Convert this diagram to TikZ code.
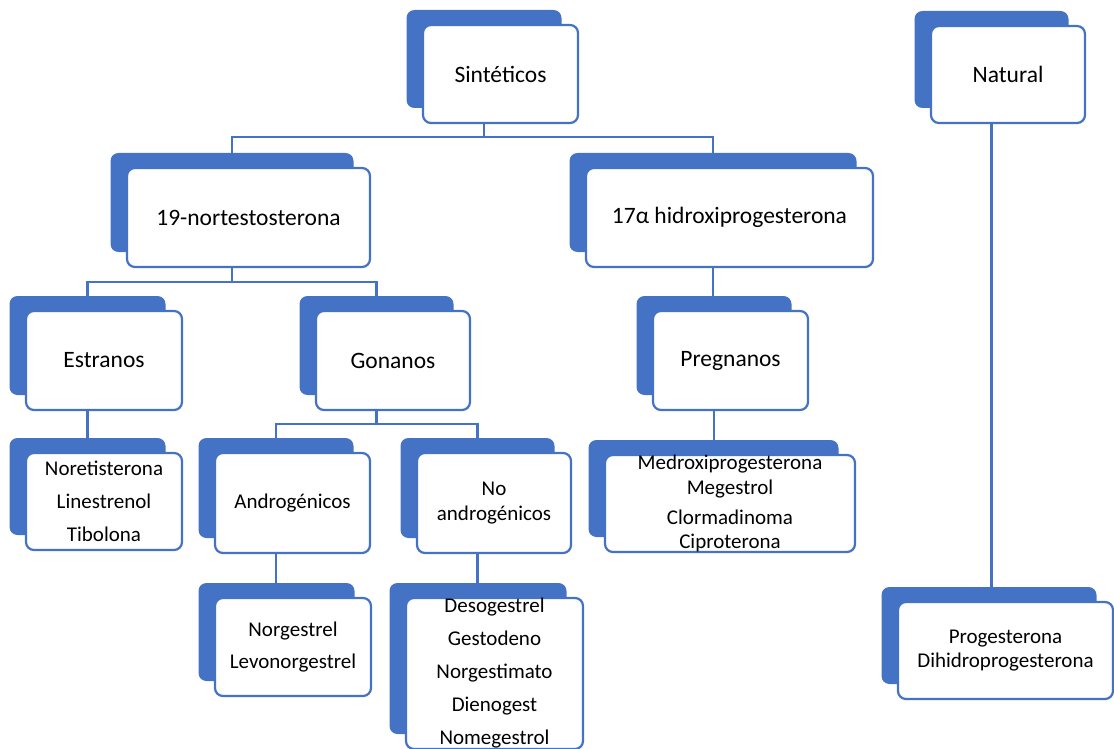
\documentclass[tikz,border=0pt]{standalone}
\usepackage{fontspec}
\setmainfont{Carlito}
\pgfdeclarelayer{bg}
\pgfsetlayers{bg,main}
\definecolor{ofblue}{HTML}{4472C4}

\tikzset{
  backbox/.style={fill=ofblue, rounded corners=8pt, inner sep=0pt, outer sep=0pt},
  frontbox/.style={fill=white, draw=ofblue, line width=2.2pt, rounded corners=8pt,
                   inner sep=0pt, outer sep=0pt, align=center},
  head/.style={font=\fontsize{23.5}{28}\selectfont},
  list/.style={font=\fontsize{21}{24.5}\selectfont},
  link/.style={draw=ofblue, line width=2.2pt},
}

% #1 name, #2 x centre, #3 y centre, #4 width, #5 height, #6 text style, #7 text
\newcommand\orgbox[7]{%
  \node[backbox, minimum width=#4pt, minimum height=#5pt] (#1B) at (#2-16.5,#3-15) {};
  \node[frontbox, minimum width=#4pt, minimum height=#5pt, #6] (#1F) at (#2,#3) {#7};
}

\begin{document}
\begin{tikzpicture}[x=1pt,y=-1pt]
\useasboundingbox (0,0) rectangle (1114,749);

% top level
\orgbox{sint}{500.5}{74}{155}{98}{head}{Sintéticos}
\orgbox{nat}{1008}{74.5}{154}{97}{head}{Natural}

% second level
\orgbox{norx}{248.5}{217.5}{243}{99}{head}{19-nortestosterona}
\orgbox{hidx}{729.5}{217.5}{287}{99}{head}{17α hidroxiprogesterona}

% third level
\orgbox{estr}{104}{360.5}{156}{99}{head}{Estranos}
\orgbox{gon}{393}{360.5}{154}{99}{head}{Gonanos}
\orgbox{preg}{730.5}{360.5}{155}{99}{head}{Pregnanos}

% fourth level
\orgbox{estrL}{104}{501.5}{156}{97}{list}{Noretisterona\\[8.5pt]Linestrenol\\[8.5pt]Tibolona}
\orgbox{andr}{292.5}{503}{155}{100}{list}{Androgénicos}
\orgbox{noan}{494}{503}{154}{100}{list}{No\\androgénicos}
\orgbox{medr}{730}{503.5}{250}{97}{list}{Medroxiprogesterona\\Megestrol\\[5.5pt]Clormadinoma\\Ciproterona}

% fifth level
\orgbox{norg}{293}{647}{156}{98}{list}{Norgestrel\\[7.5pt]Levonorgestrel}
\orgbox{deso}{494.5}{673.5}{177}{151}{list}{Desogestrel\\[8.5pt]Gestodeno\\[8.5pt]Norgestimato\\[8.5pt]Dienogest\\[8.5pt]Nomegestrol}
\orgbox{prog}{1005.5}{650.5}{215}{97}{list}{Progesterona\\Dihidroprogesterona}

% connectors, kept behind the boxes
\begin{pgfonlayer}{bg}
  \coordinate (busA) at (0,137);
  \coordinate (busB) at (0,282);
  \coordinate (busC) at (0,424);
  \draw[link] (sintB.south) -- (sintB.south |- busA) -| (norxB.north);
  \draw[link] (sintB.south |- busA) -| (hidxB.north);
  \draw[link] (norxB.south) -- (norxB.south |- busB) -| (estrB.north);
  \draw[link] (norxB.south |- busB) -| (gonB.north);
  \draw[link] (hidxB.south) -- (hidxB.south |- pregB.north);
  \draw[link] (estrB.south) -- (estrLB.north);
  \draw[link] (gonB.south) -- (gonB.south |- busC) -| (andrB.north);
  \draw[link] (gonB.south |- busC) -| (noanB.north);
  \draw[link] (pregB.south) -- (pregB.south |- medrB.north);
  \draw[link] (andrB.south) -- (andrB.south |- norgB.north);
  \draw[link] (noanB.south) -- (noanB.south |- desoB.north);
  \draw[link] (natB.south) -- (natB.south |- progB.north);
\end{pgfonlayer}
\end{tikzpicture}
\end{document}
